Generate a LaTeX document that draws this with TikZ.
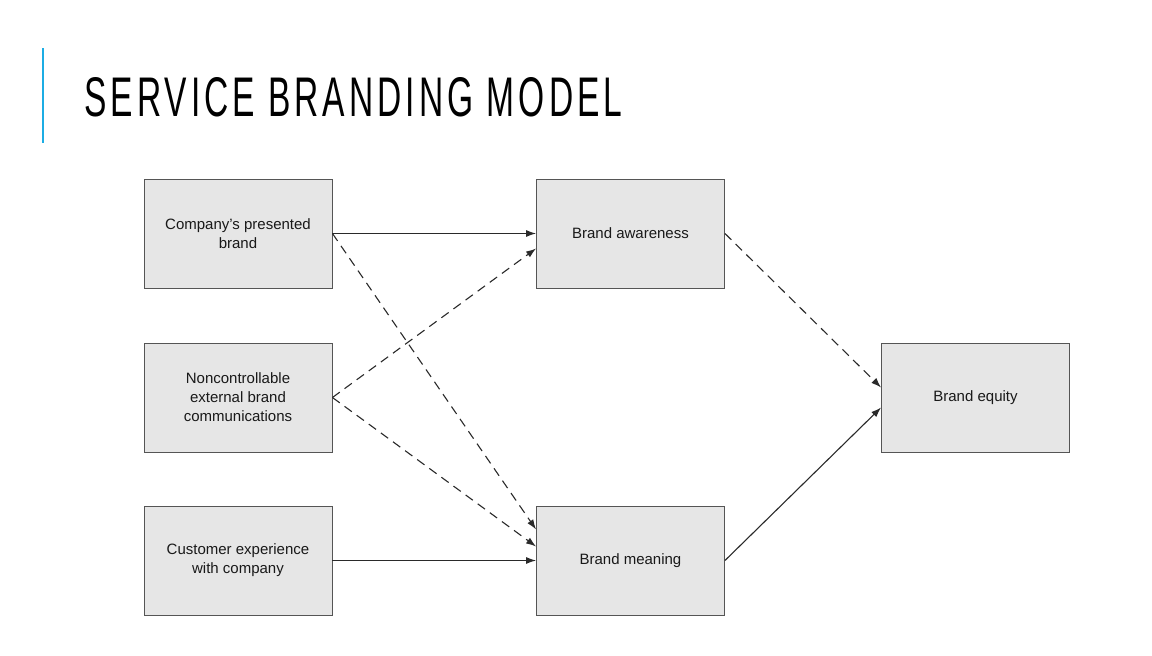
\documentclass[tikz,border=0pt]{standalone}
\usepackage{fontspec}
\setmainfont{Liberation Sans}
\newfontfamily\titlefont[LetterSpace=12]{Liberation Sans}
\usetikzlibrary{arrows.meta}
\definecolor{boxfill}{HTML}{E6E6E6}
\definecolor{boxline}{HTML}{555555}
\definecolor{accent}{HTML}{1CADE4}
\definecolor{arrowc}{HTML}{2A2A2A}
\tikzset{
  box/.style={draw=boxline, line width=0.9pt, fill=boxfill, minimum width=188pt, minimum height=109pt,
    inner sep=0pt, align=center, font=\fontsize{15}{19}\selectfont, text=black!90},
  link/.style={draw=arrowc, line width=1.1pt, -{Latex[length=10pt,width=7pt]}},
  dlink/.style={link, dash pattern=on 9pt off 6pt}
}
\begin{document}
\begin{tikzpicture}[x=1pt,y=-1pt]
\useasboundingbox (0,0) rectangle (1152,656);
\fill[white] (0,0) rectangle (1152,656);
\draw[accent, line width=2pt] (43,48) -- (43,143);
\node[anchor=south west, inner sep=0pt] (title) at (84,117)
  {\resizebox{538pt}{39pt}{\titlefont SERVICE BRANDING MODEL}};
\node[box] (A) at (238,233.5) {Company's presented\\brand};
\node[box] (B) at (238,397.5) {Noncontrollable\\external brand\\communications};
\node[box] (C) at (238,560.5) {Customer experience\\with company};
\node[box] (D) at (630.5,233.5) {Brand awareness};
\node[box] (E) at (630.5,560.5) {Brand meaning};
\node[box] (F) at (975.5,397.5) {Brand equity};
\draw[link] (A.east) -- (D.west);
\draw[dlink] (A.east) -- ([yshift=31pt]E.west);
\draw[dlink] (B.east) -- ([yshift=-15pt]D.west);
\draw[dlink] (B.east) -- ([yshift=14pt]E.west);
\draw[link] (C.east) -- (E.west);
\draw[dlink] (D.east) -- ([yshift=10pt]F.west);
\draw[link] (E.east) -- ([yshift=-10pt]F.west);
\end{tikzpicture}
\end{document}
